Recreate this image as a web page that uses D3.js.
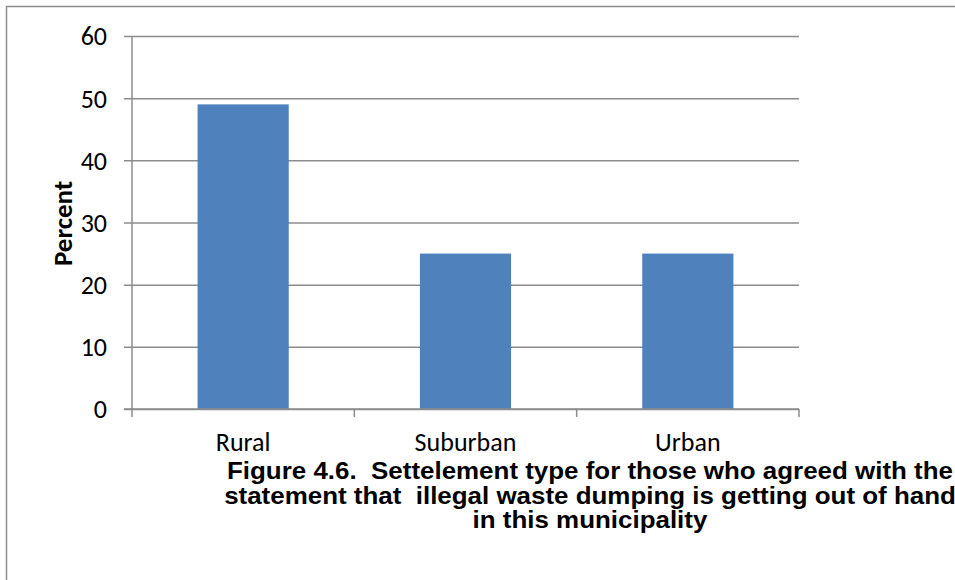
<!DOCTYPE html>
<html>
<head>
<meta charset="utf-8">
<script src="https://cdn.jsdelivr.net/npm/d3@7"></script>
<style>
  html, body { margin: 0; padding: 0; background: #fff; }
  svg { display: block; }
</style>
</head>
<body>
<svg id="chart" width="955" height="580"></svg>
<script>
// Settlement type of respondents who agreed with the statement
const categories = ["Rural", "Suburban", "Urban"];
const percentValues = [49, 25, 25];
const yTicks = [0, 10, 20, 30, 40, 50, 60];
const titleLines = [
  "Figure 4.6.  Settelement type for those who agreed with the",
  "statement that  illegal waste dumping is getting out of hand",
  "in this municipality"
];

const svg = d3.select("#chart");
const W = 955, H = 580;
const plot = { left: 132, right: 799, top: 36, bottom: 409 };
const axisColor = "#8c8c8c";
const labelFont = "Carlito, 'Open Sans', 'Noto Sans', sans-serif";

// outer frame (left and top edges)
svg.append("path")
  .attr("d", `M6.5,${H} V6.5 H${W}`)
  .attr("fill", "none")
  .attr("stroke", axisColor)
  .attr("stroke-width", 1.5);

const x = d3.scaleBand()
  .domain(categories)
  .range([plot.left, plot.right])
  .paddingInner(0.59)
  .paddingOuter(0.295);

const xOuter = d3.scaleBand()
  .domain(categories)
  .range([plot.left, plot.right]);

const y = d3.scaleLinear()
  .domain([0, 60])
  .range([plot.bottom, plot.top]);

// horizontal gridlines with outward ticks
const yAxis = d3.axisLeft(y)
  .tickValues(yTicks)
  .tickSize(-(plot.right - plot.left))
  .tickPadding(25)
  .tickFormat(d3.format("d"));

const gy = svg.append("g")
  .attr("transform", `translate(${plot.left},0)`)
  .call(yAxis);
gy.select(".domain").remove();
gy.selectAll(".tick line")
  .attr("x1", -8)
  .attr("stroke", axisColor)
  .attr("stroke-width", 1.5);
gy.selectAll(".tick text")
  .attr("font-family", labelFont)
  .attr("font-size", 26)
  .attr("dy", "0.34em")
  .attr("fill", "#000");

// vertical axis line
svg.append("line")
  .attr("x1", plot.left).attr("x2", plot.left)
  .attr("y1", plot.top).attr("y2", plot.bottom + 8)
  .attr("stroke", axisColor)
  .attr("stroke-width", 1.5);

// category boundary ticks on the baseline
const boundaries = categories.map(c => xOuter(c)).concat([plot.right]);
svg.append("g").selectAll("line")
  .data(boundaries.slice(1))
  .join("line")
  .attr("x1", d => d).attr("x2", d => d)
  .attr("y1", plot.bottom).attr("y2", plot.bottom + 8)
  .attr("stroke", axisColor)
  .attr("stroke-width", 1.5);

// bars
svg.append("g").selectAll("rect")
  .data(categories.map((c, i) => ({ c, v: percentValues[i] })))
  .join("rect")
  .attr("x", d => x(d.c))
  .attr("width", x.bandwidth())
  .attr("y", d => y(d.v))
  .attr("height", d => y(0) - y(d.v))
  .attr("fill", "#4f81bd");

// baseline drawn over bars
svg.append("line")
  .attr("x1", plot.left - 8).attr("x2", plot.right)
  .attr("y1", plot.bottom).attr("y2", plot.bottom)
  .attr("stroke", axisColor)
  .attr("stroke-width", 1.5);

// category labels
svg.append("g").selectAll("text")
  .data(categories)
  .join("text")
  .attr("x", d => xOuter(d) + xOuter.bandwidth() / 2)
  .attr("y", 451)
  .attr("text-anchor", "middle")
  .attr("font-family", labelFont)
  .attr("font-size", 26)
  .attr("fill", "#000")
  .text(d => d);

// y axis title
svg.append("text")
  .attr("transform", `translate(72,${(plot.top + plot.bottom) / 2 + 1}) rotate(-90)`)
  .attr("text-anchor", "middle")
  .attr("font-family", labelFont)
  .attr("font-weight", "bold")
  .attr("font-size", 27)
  .attr("fill", "#000")
  .text("Percent");

// figure caption in a condensed bold face
const caption = svg.append("g").selectAll("text")
  .data(titleLines)
  .join("text")
  .attr("x", 590)
  .attr("y", (d, i) => 479 + i * 24.7)
  .attr("text-anchor", "middle")
  .attr("font-family", "'Liberation Sans Narrow', 'Arial Narrow', 'Liberation Sans', sans-serif")
  .attr("font-weight", "bold")
  .attr("font-size", 24)
  .attr("fill", "#000")
  .style("white-space", "pre")
  .text(d => d);

// squeeze all lines by the same factor so the first line spans its width
const firstNatural = caption.nodes()[0].getComputedTextLength();
const squeeze = 726 / firstNatural;
caption.each(function () {
  const len = this.getComputedTextLength();
  d3.select(this)
    .attr("textLength", len * squeeze)
    .attr("lengthAdjust", "spacingAndGlyphs");
});
</script>
</body>
</html>
